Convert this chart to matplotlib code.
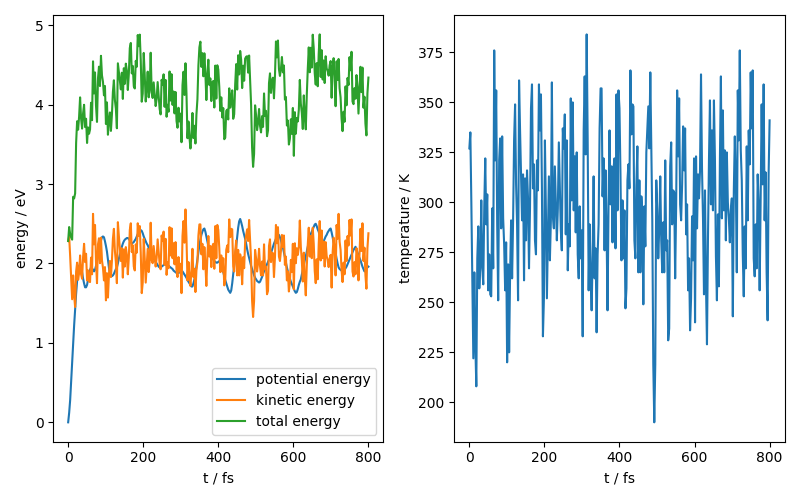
import numpy as np
import matplotlib
matplotlib.use("Agg")
import matplotlib.pyplot as plt

# temperature, evenly spaced over 0..800 fs
temperature = [
    327, 335, 300, 259, 222, 265, 229, 208, 272, 288,
    257, 269, 301, 267, 259, 298, 322, 289, 304, 256,
    274, 254, 253, 297, 267, 376, 321, 356, 289, 251,
    321, 332, 287, 333, 292, 279, 256, 280, 220, 269,
    225, 265, 291, 262, 291, 331, 349, 309, 289, 251,
    361, 336, 314, 291, 314, 261, 312, 281, 316, 302,
    267, 297, 347, 359, 307, 319, 281, 274, 321, 306,
    359, 336, 354, 307, 233, 252, 331,
    296, 252, 281, 313, 271, 291, 360, 293, 287, 318,
    299, 281, 297, 330, 309, 286, 276, 337, 327, 344,
    284, 331, 266, 289, 278, 352, 301, 350, 296, 323,
    285, 325, 274, 262, 298, 272, 286, 233, 336, 363,
    324, 384, 332, 256, 289, 263, 246, 274, 313, 262,
    277, 235, 274, 289, 337, 357, 357, 303, 322, 276,
    316, 286, 246, 299, 336, 299, 318, 280, 317, 322,
    277, 354, 296, 356, 347, 314, 271,
    301, 272, 296, 247, 257, 311, 319, 307, 366, 334,
    349, 348, 281, 272, 309, 328, 265, 311, 265, 303,
    293, 249, 298, 278, 325, 337, 348, 327,
    365, 326, 291, 219, 190, 219, 311, 296, 272, 287, 313, 281,
    265, 290, 265, 321, 276, 281, 231, 237, 318, 330,
    289, 306, 305, 262, 298, 356, 323, 352, 299, 291,
    309, 338, 316, 337, 284, 299, 256, 272, 236, 252,
    293, 271, 322, 240, 323,
    287, 314, 302, 316, 364, 317, 292, 254, 306, 259,
    229, 282, 321, 351, 299, 336, 296, 351, 322, 273,
    251, 294, 258, 321, 363, 292, 346, 296, 326, 281,
    325, 300, 292, 280, 296, 302, 243, 306, 333, 309,
    265, 356, 331, 376, 326, 311, 274, 253, 288, 267,
    328, 291, 336, 319, 365, 337, 366, 272, 263, 289,
    267, 314, 299, 256, 302, 349, 309, 359, 291, 315,
    265, 241, 314, 341,
]

# potential energy (eV), same time grid
potential = [
    0.00, 0.12, 0.28, 0.52, 0.75, 0.99, 1.22, 1.43, 1.62, 1.78,
    1.89, 1.97, 1.99, 1.96, 1.89, 1.81, 1.75, 1.70, 1.70, 1.73,
    1.80, 1.86, 1.92, 1.95, 1.94, 1.92, 1.90, 1.92, 1.97, 2.03,
    2.09, 2.16, 2.23, 2.29, 2.33, 2.34, 2.33, 2.28, 2.22, 2.15,
    2.05, 1.95, 1.87, 1.84, 1.84, 1.85, 1.87, 1.90, 1.93, 1.95,
    2.00, 2.06, 2.11, 2.16, 2.21, 2.25, 2.28, 2.30, 2.31, 2.32,
    2.32, 2.31, 2.29, 2.27, 2.25, 2.26, 2.27, 2.29, 2.31, 2.34,
    2.37, 2.39, 2.41, 2.42, 2.41, 2.38, 2.34, 2.31, 2.28, 2.25,
    2.23, 2.20, 2.17, 2.14, 2.11, 2.08, 2.06, 2.04, 2.02, 2.00,
    1.98, 1.96, 1.95, 1.95, 1.96, 1.97, 1.98, 1.99, 2.00, 1.99,
    1.98, 1.97, 1.96, 1.95, 1.94, 1.93, 1.91, 1.90, 1.89, 1.88,
    1.88, 1.88, 1.89, 1.89, 1.90, 1.90, 1.88, 1.86, 1.84, 1.82,
    1.79, 1.77, 1.75, 1.73, 1.71, 1.71, 1.75, 1.80, 1.87, 1.96,
    2.05, 2.14, 2.23, 2.30, 2.36, 2.40, 2.43, 2.44, 2.40, 2.34,
    2.28, 2.22, 2.16, 2.11, 2.09, 2.07, 2.05, 2.03, 2.02, 2.01,
    2.01, 2.02, 2.03, 2.03, 1.99, 1.94, 1.89, 1.84, 1.79, 1.75,
    1.71, 1.67, 1.65, 1.63, 1.66, 1.75, 1.86, 1.98, 2.10, 2.22,
    2.34, 2.45, 2.53, 2.56, 2.52, 2.47, 2.41, 2.36, 2.31, 2.25,
    2.18, 2.12, 2.07, 2.02, 1.97, 1.93, 1.89, 1.85, 1.82, 1.80,
    1.78, 1.77, 1.76, 1.77, 1.80, 1.83, 1.87, 1.90, 1.93, 1.96,
    1.99, 2.02, 2.05, 2.09, 2.13, 2.17, 2.21, 2.25, 2.28, 2.31,
    2.34, 2.35, 2.36, 2.33, 2.29, 2.24, 2.20, 2.14, 2.08, 2.01,
    1.95, 1.90, 1.85, 1.81, 1.77, 1.74, 1.71, 1.68, 1.65, 1.63,
    1.64, 1.68, 1.73, 1.77, 1.80, 1.86, 1.92, 1.98, 2.04, 2.09,
    2.15, 2.21, 2.27, 2.32, 2.37, 2.40, 2.43, 2.46, 2.49, 2.50,
    2.47, 2.43, 2.40, 2.35, 2.31, 2.27, 2.25, 2.28, 2.31, 2.34,
    2.36, 2.39, 2.41, 2.43, 2.44, 2.39, 2.33, 2.26, 2.20, 2.13,
    2.06, 2.00, 1.95, 1.93, 1.92, 1.91, 1.90, 1.90, 1.92, 1.94,
    1.96, 1.99, 2.02, 2.05, 2.08, 2.11, 2.14, 2.17, 2.19, 2.21,
    2.18, 2.14, 2.10, 2.07, 2.04, 2.00, 1.96, 1.93, 1.90, 1.91,
    1.93, 1.95, 1.96,
]

n_atoms = 54
k_B = 8.617333e-5  # eV/K

temperature = np.array(temperature, dtype=float)
potential = np.array(potential, dtype=float)
t = np.linspace(0, 800, len(temperature))

# kinetic energy from temperature, total = potential + kinetic
kinetic = 1.5 * n_atoms * k_B * temperature
total = potential + kinetic

fig, (ax1, ax2) = plt.subplots(1, 2, figsize=(8, 5), dpi=100)

ax1.plot(t, potential, label="potential energy")
ax1.plot(t, kinetic, label="kinetic energy")
ax1.plot(t, total, label="total energy")
ax1.set_xlabel("t / fs")
ax1.set_ylabel("energy / eV")
ax1.legend(loc="lower right")

ax2.plot(t, temperature)
ax2.set_xlabel("t / fs")
ax2.set_ylabel("temperature / K")

fig.tight_layout()
fig.savefig("out.png")
